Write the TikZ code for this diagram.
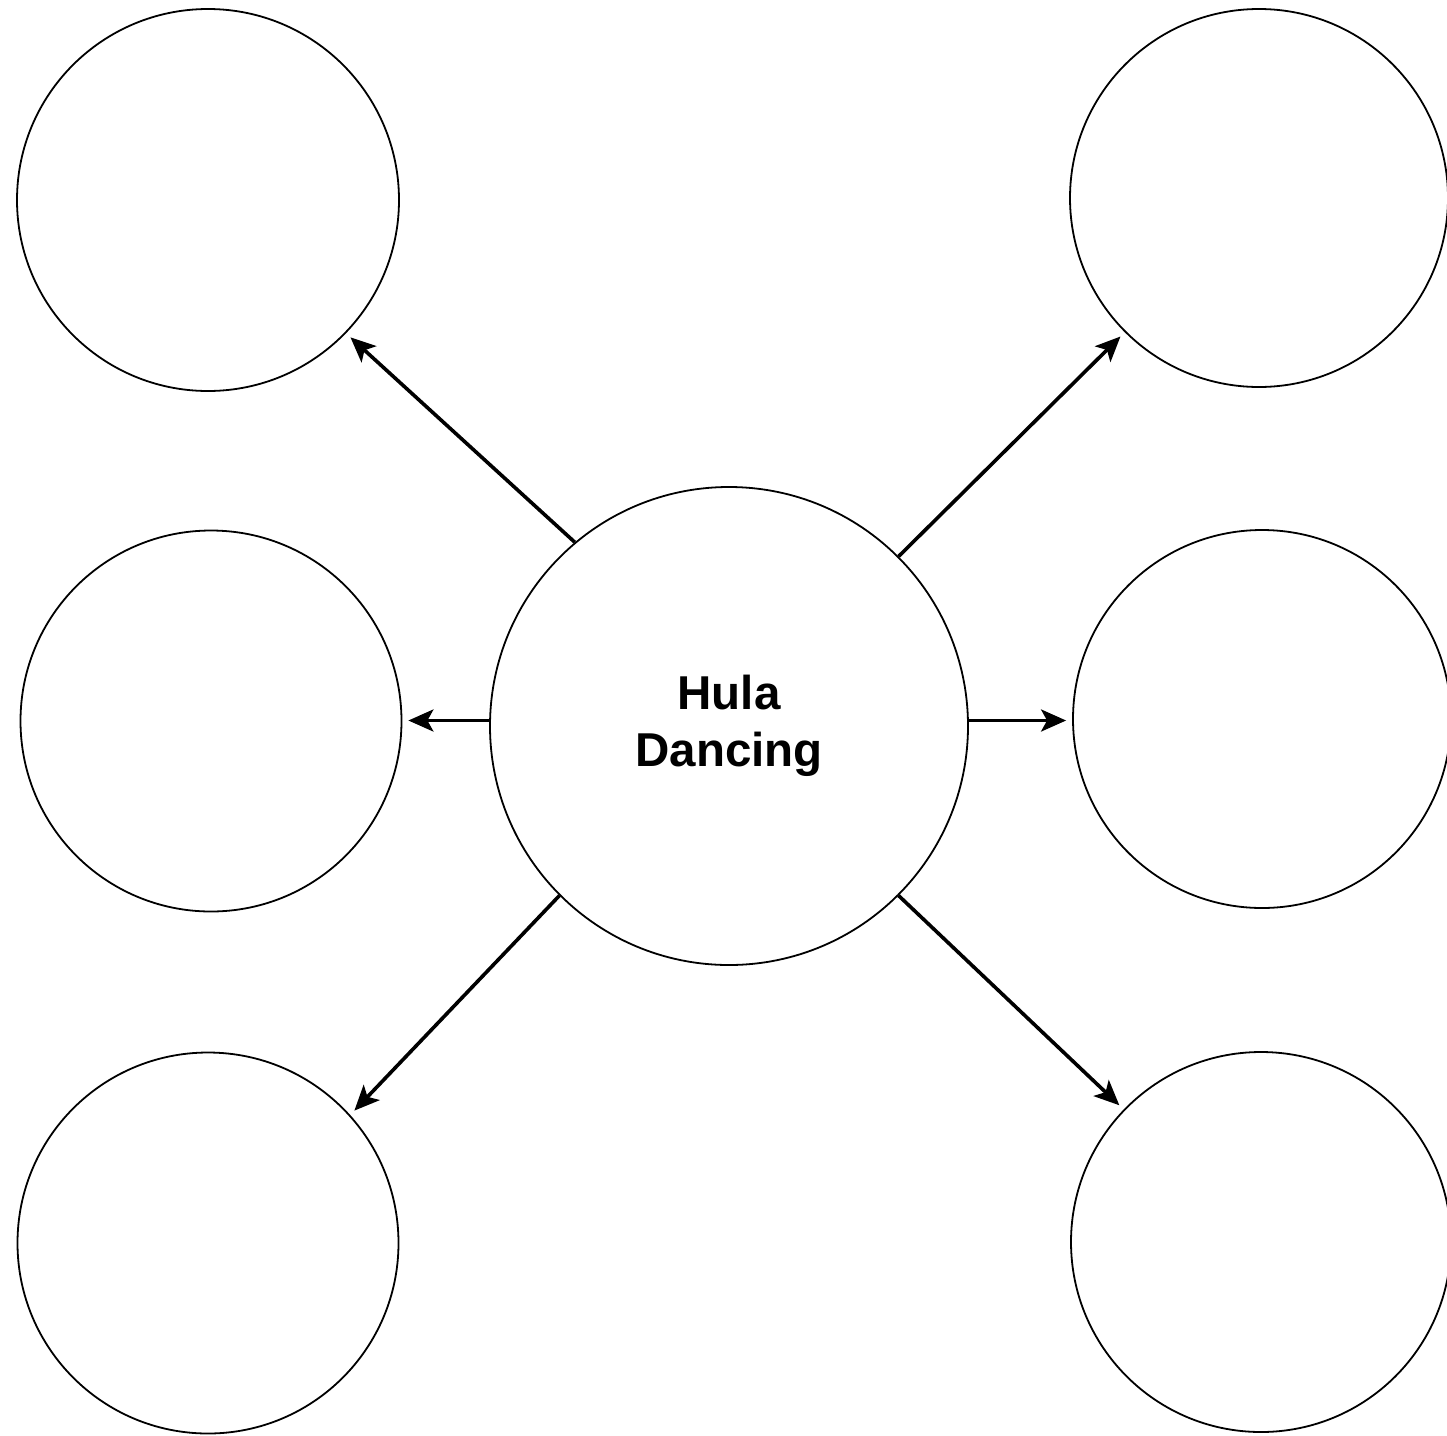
\documentclass[tikz,border=0pt]{standalone}
\usepackage{fontspec}
\setmainfont{Liberation Sans}
\usetikzlibrary{arrows.meta}
\begin{document}
\begin{tikzpicture}[x=1pt,y=-1pt,
  bubble/.style={circle,draw=black,line width=1.8pt,inner sep=0pt,minimum size=#1},
  link/.style={line width=3.6pt,-{Stealth[length=25pt,width=22pt,inset=6pt]},shorten >=6pt}]
\useasboundingbox[fill=white] (0,0) rectangle (1447,1435);
\node[bubble=478pt,align=center,font=\fontsize{47.5}{57}\selectfont\bfseries] (c) at (729,726) {Hula\\Dancing};
\node[bubble=382pt] (tl) at (208,200) {};
\node[bubble=378pt] (tr) at (1259,198) {};
\node[bubble=381pt] (ml) at (211,721) {};
\node[bubble=378pt] (mr) at (1262,719) {};
\node[bubble=381pt] (bl) at (208,1243) {};
\node[bubble=380pt] (br) at (1261,1242) {};
\coordinate (row) at (0,720.5);
\draw[link] (c.130) -- (tl.-44.6);
\draw[link] (c.45.7) -- (tr.225.2);
\draw[link] (c.west |- row) -- (ml.east |- row);
\draw[link] (c.east |- row) -- (mr.west |- row);
\draw[link] (c.225.5) -- (bl.42.3);
\draw[link] (c.-45.5) -- (br.136.6);
\end{tikzpicture}
\end{document}
